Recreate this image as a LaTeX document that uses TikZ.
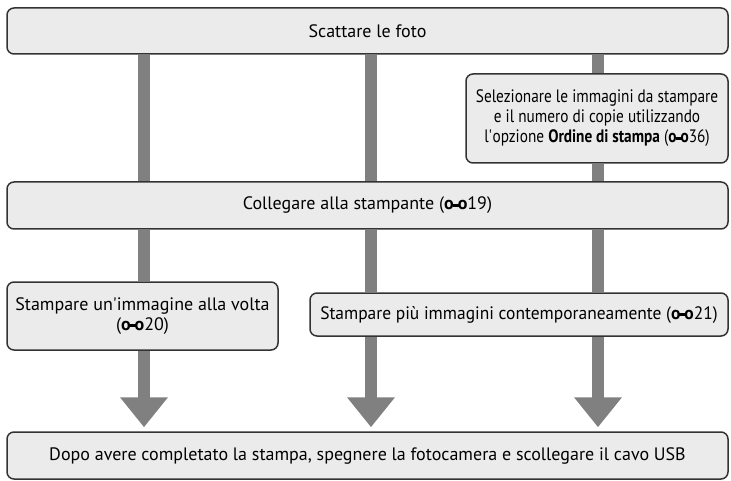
\documentclass[tikz,border=0pt]{standalone}
\usepackage{fontspec}
\setmainfont{PT Sans}
\usetikzlibrary{arrows.meta,backgrounds}
% small reference mark: ring, thick bar, ring
\newcommand{\refic}{{\bfseries o\kern-0.06em\rule[0.19em]{0.34em}{0.15em}\kern-0.06em o}}
\newcommand{\pref}[1]{(\refic#1)}

\begin{document}
\begin{tikzpicture}[x=1pt, y=-1pt,
  box/.style={draw=black!80, line width=1.5pt, rounded corners=7pt,
    fill=black!8, align=center, inner sep=0pt,
    font=\fontsize{18}{20}\selectfont},
  tight/.style={font=\fontsize{18}{20}\selectfont\addfontfeature{FakeStretch=#1}},
  wide/.style={box, minimum width=721pt, minimum height=47pt},
  bar/.style={line width=12pt, black!50},
  arr/.style={bar, -{Triangle[length=30pt, width=46pt]}, shorten >=4pt},
]
\useasboundingbox (0,0) rectangle (731,481);
% columns of the bars
\coordinate (cL) at (144,0);
\coordinate (cM) at (371,0);
\coordinate (cR) at (598,0);

% boxes
\node[wide, minimum height=46pt] (shoot) at (367.5,31) {Scattare le foto};
\node[box, tight=0.85, minimum width=262pt, minimum height=89pt] (sel) at (597,118.5)
  {Selezionare le immagini da stampare\\e il numero di copie utilizzando\\
   l\textquotesingle opzione \textbf{Ordine di stampa} \pref{36}};
\node[wide] (conn) at (367.5,205.5) {Collegare alla stampante \pref{19}};
\node[box, minimum width=271pt, minimum height=68pt] (one) at (142.5,316)
  {Stampare un\textquotesingle immagine alla volta\\\pref{20}};
\node[box, tight=0.97, minimum width=418pt, minimum height=43pt] (many) at (519,314.5)
  {Stampare più immagini contemporaneamente \pref{21}};
\node[wide] (done) at (367.5,455.5)
  {Dopo avere completato la stampa, spegnere la fotocamera e scollegare il cavo USB};

% bars and arrows
\begin{scope}[on background layer]
\draw[bar] (shoot.south -| cL) -- (conn.north -| cL);
\draw[bar] (conn.south -| cL) -- (one.north -| cL);
\draw[arr] (one.south -| cL) -- (done.north -| cL);

\draw[bar] (shoot.south -| cM) -- (conn.north -| cM);
\draw[bar] (conn.south -| cM) -- (many.north -| cM);
\draw[arr] (many.south -| cM) -- (done.north -| cM);

\draw[bar] (shoot.south -| cR) -- (sel.north -| cR);
\draw[bar] (sel.south -| cR) -- (conn.north -| cR);
\draw[bar] (conn.south -| cR) -- (many.north -| cR);
\draw[arr] (many.south -| cR) -- (done.north -| cR);
\end{scope}
\end{tikzpicture}
\end{document}
